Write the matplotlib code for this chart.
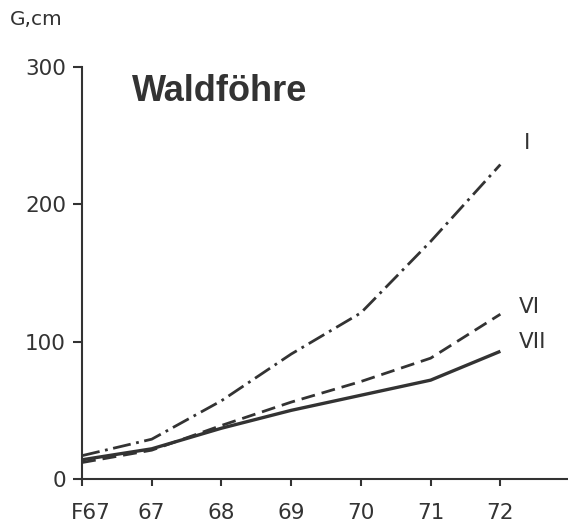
import matplotlib
matplotlib.use("Agg")
import matplotlib.pyplot as plt
import matplotlib.transforms as mtransforms

# Data (G in cm)
years = ["F67", "67", "68", "69", "70", "71", "72"]
klasse_I = [17, 29, 57, 91, 121, 173, 229]
klasse_VI = [12, 21, 39, 56, 71, 88, 120]
klasse_VII = [14, 22, 37, 50, 61, 72, 93]
y_ticks = [0, 100, 200, 300]

ink = "#333333"
plt.rcParams["font.family"] = ["DejaVu Sans"]
plt.rcParams["lines.scale_dashes"] = False

fig = plt.figure(figsize=(5.68, 5.32), dpi=100)
ax = fig.add_axes([0.1444, 0.0996, 0.8556, 0.7744])

x = list(range(len(years)))
ax.plot(x, klasse_I, color=ink, lw=2.0, dashes=(13, 4, 2, 4))
ax.plot(x, klasse_VI, color=ink, lw=2.0, dashes=(10, 5))
ax.plot(x, klasse_VII, color=ink, lw=2.4, solid_capstyle="butt")

ax.set_xlim(0, 6.97)
ax.set_ylim(0, 300)
ax.set_xticks(x)
ax.set_xticklabels(years)
ax.set_yticks(y_ticks)

for side in ["top", "right"]:
    ax.spines[side].set_visible(False)
for side in ["left", "bottom"]:
    ax.spines[side].set_linewidth(1.5)
    ax.spines[side].set_color(ink)

ax.tick_params(axis="y", length=6.5, width=1.5, color=ink, labelcolor=ink,
               labelsize=15.5, pad=5)
ax.tick_params(axis="x", length=5, width=1.5, color=ink, labelcolor=ink,
               labelsize=15.5, pad=12)

# first label sits a bit right of its tick
first = ax.get_xticklabels()[0]
first.set_transform(first.get_transform() +
                    mtransforms.ScaledTranslation(6 / 72, 0, fig.dpi_scale_trans))

ax.text(0.72, 275, "Waldföhre", fontsize=26, fontweight="bold",
        family=["Liberation Sans", "DejaVu Sans"], color=ink,
        ha="left", va="baseline")

ax.text(6.38, 245, "I", fontsize=15.5, color=ink, ha="center", va="center")
ax.text(6.26, 125, "VI", fontsize=15.5, color=ink, ha="left", va="center")
ax.text(6.26, 100, "VII", fontsize=15.5, color=ink, ha="left", va="center")

fig.text(0.018, 0.953, "G,cm", fontsize=14.5, color=ink, ha="left", va="baseline")

fig.savefig("out.png", dpi=100)
